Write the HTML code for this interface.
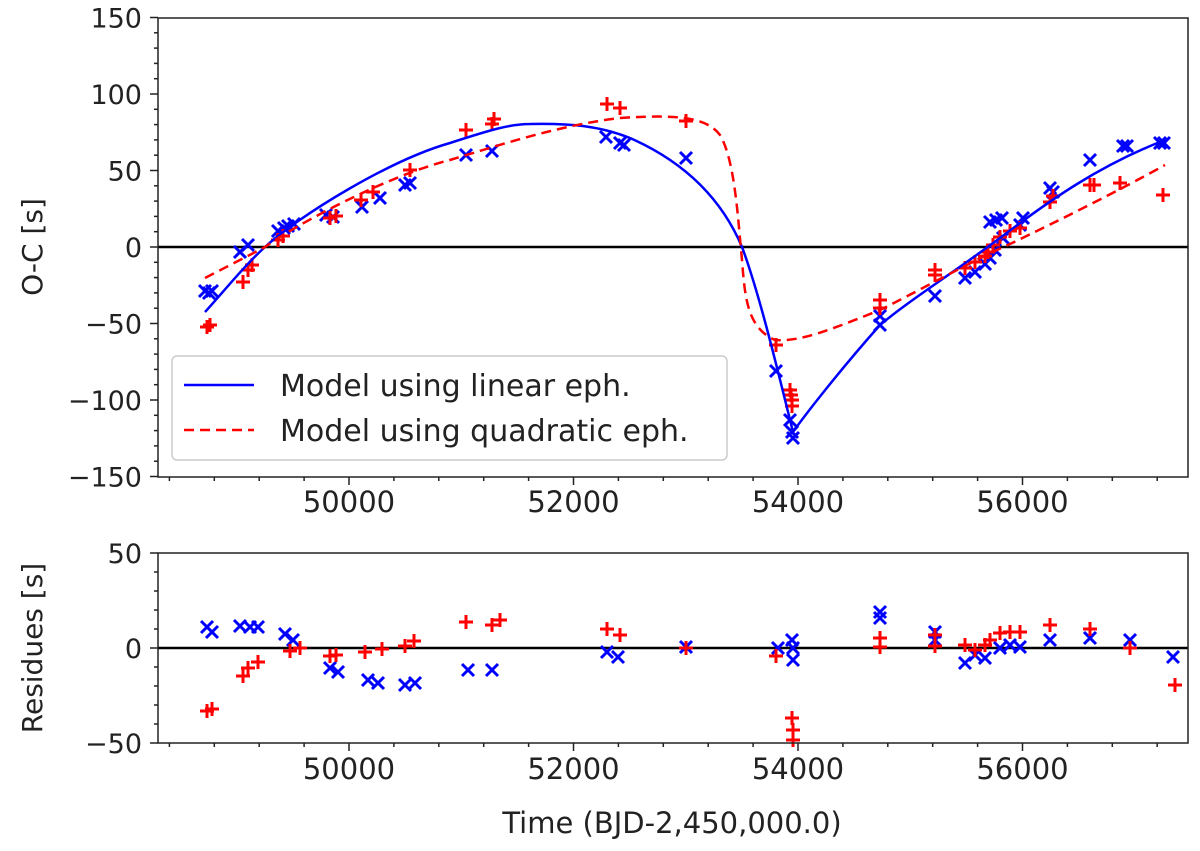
<!DOCTYPE html>
<html><head><meta charset="utf-8"><style>
body{margin:0;background:#fff}
svg text{font-family:"DejaVu Sans","Liberation Sans",sans-serif;fill:#222}
</style></head><body>
<svg id="s" width="1200" height="846" xmlns="http://www.w3.org/2000/svg">
<rect width="1200" height="846" fill="#fff"/>
<g id="g"></g>
<line x1="158" y1="247" x2="1188" y2="247" stroke="#000" stroke-width="2.5"/>
<line x1="158" y1="648" x2="1188" y2="648" stroke="#000" stroke-width="2.5"/>
<g id="pts"></g>
<path d="M205,312 C225,290 245,265 265,247 C300,215 390,160 450,143 C490,130 510,124 530,124 C570,123 600,126 630,138 C680,160 720,195 742,247 C760,295 780,380 793,432 C805,415 840,370 880,325 C910,300 950,275 1000,238 C1050,200 1100,165 1165,140" fill="none" stroke="#0000ff" stroke-width="2.5"/>
<path d="M205,278 C230,265 250,255 265,247 C300,222 390,175 450,160 C500,145 560,125 620,118 C670,115 705,115 720,135 C735,160 738,220 742,260 C745,300 748,328 775,340 C800,342 830,330 880,310 C930,285 970,262 1010,244 C1060,220 1120,190 1165,165" fill="none" stroke="#ff0000" stroke-width="2.5" stroke-dasharray="10,6"/>
<rect x="158" y="18" width="1030" height="459" fill="none" stroke="#222" stroke-width="1.5"/>
<rect x="158" y="553" width="1030" height="190" fill="none" stroke="#222" stroke-width="1.5"/>
<rect x="172" y="356" width="555" height="104" rx="5" fill="#fff" fill-opacity="0.85" stroke="#ccc" stroke-width="1.5"/>
<line x1="184" y1="385" x2="254" y2="385" stroke="#0000ff" stroke-width="2.5"/>
<line x1="184" y1="430" x2="254" y2="430" stroke="#ff0000" stroke-width="2.5" stroke-dasharray="10,6"/>
<text x="280" y="396" font-size="30">Model using linear eph.</text>
<text x="280" y="441" font-size="30">Model using quadratic eph.</text>
<text transform="translate(42,247) rotate(-90)" text-anchor="middle" font-size="28">O-C [s]</text>
<text transform="translate(42,648) rotate(-90)" text-anchor="middle" font-size="28">Residues [s]</text>
<text x="672" y="833" text-anchor="middle" font-size="29">Time (BJD-2,450,000.0)</text>
</svg>
<script>
var NS="http://www.w3.org/2000/svg",g=document.getElementById('g'),P=document.getElementById('pts');
function el(p,t,a,txt){var e=document.createElementNS(NS,t);for(var k in a)e.setAttribute(k,a[k]);if(txt)e.textContent=txt;p.appendChild(e);return e;}
function X(t){return 349+(t-50000)*0.11225;}
function ln(x1,y1,x2,y2,w){el(g,'line',{x1:x1,y1:y1,x2:x2,y2:y2,stroke:'#222','stroke-width':w||1.5});}
for(var t=48400;t<=57200;t+=400){var x=X(t),maj=(t%2000==0);
 ln(x,477,x,477+(maj?8:4));ln(x,743,x,743+(maj?8:4));
 if(maj){el(g,'text',{x:x,y:512,'text-anchor':'middle','font-size':29},String(t));el(g,'text',{x:x,y:779,'text-anchor':'middle','font-size':29},String(t));}}
for(var v=-150;v<=150;v+=10){var y=247-v*1.53,maj=(v%50==0);ln(158,y,158-(maj?8:4),y);
 if(maj)el(g,'text',{x:142,y:y+10,'text-anchor':'end','font-size':27},(v<0?'\u2212':'')+Math.abs(v));}
for(var v=-50;v<=50;v+=10){var y=648-v*1.9,maj=(v%50==0);ln(158,y,158-(maj?8:4),y);
 if(maj)el(g,'text',{x:142,y:y+10,'text-anchor':'end','font-size':27},(v<0?'\u2212':'')+Math.abs(v));}
function xm(x,y){var d=6;el(P,'path',{d:'M'+(x-d)+','+(y-d)+'L'+(x+d)+','+(y+d)+'M'+(x-d)+','+(y+d)+'L'+(x+d)+','+(y-d),stroke:'#0000ff','stroke-width':3,fill:'none'});}
function pm(x,y){var d=7;el(P,'path',{d:'M'+(x-d)+','+y+'L'+(x+d)+','+y+'M'+x+','+(y-d)+'L'+x+','+(y+d),stroke:'#ff0000','stroke-width':3,fill:'none'});}
var B=[[205,291],[209,293],[212,291],[240,252],[248,245],[278,231],[284,228],[288,226],[294,224],[326,215],[333,217],[362,207],[380,198],[405,185],[410,183],[466,155],[492,151],[606,137],[620,143],[624,145],[686,158],[776,371],[790,420],[792,432],[793,438],[880,316],[880,325],[935,296],[965,278],[975,272],[985,264],[990,258],[995,250],[1003,238],[990,222],[996,220],[1002,218],[1020,225],[1023,218],[1050,188],[1053,192],[1090,160],[1123,146],[1127,146],[1160,143],[1164,143]];
var R=[[207,327],[210,325],[243,282],[248,270],[252,265],[278,240],[283,236],[330,218],[336,216],[361,200],[373,192],[410,170],[466,130],[492,124],[494,119],[607,104],[620,108],[686,121],[776,345],[790,390],[791,395],[792,400],[792,406],[880,308],[880,300],[935,275],[935,270],[965,268],[975,262],[985,256],[988,252],[993,245],[1000,237],[1010,231],[1020,228],[1050,202],[1053,196],[1090,185],[1094,185],[1120,183],[1163,195]];
var BB=[[207,627],[212,632],[240,626],[250,627],[258,627],[285,634],[293,640],[330,668],[338,672],[368,680],[378,683],[405,685],[415,683],[468,670],[492,670],[607,652],[618,657],[686,647],[778,648],[792,640],[793,660],[793,648],[880,612],[880,618],[935,632],[935,640],[965,663],[975,655],[985,658],[1000,648],[1010,645],[1020,647],[1050,640],[1090,638],[1130,640],[1173,657]];
var RB=[[207,711],[212,709],[243,676],[248,668],[258,662],[290,651],[300,648],[330,656],[336,655],[365,652],[382,649],[405,646],[414,641],[466,622],[492,625],[500,620],[607,629],[620,635],[686,648],[776,656],[792,718],[793,730],[793,740],[880,647],[880,638],[935,635],[935,646],[965,645],[975,650],[985,645],[990,640],[1000,633],[1010,632],[1020,632],[1050,625],[1090,629],[1130,648],[1175,685]];
B.forEach(function(p){xm(p[0],p[1]);});R.forEach(function(p){pm(p[0],p[1]);});
BB.forEach(function(p){xm(p[0],p[1]);});RB.forEach(function(p){pm(p[0],p[1]);});
</script>
</body></html>
